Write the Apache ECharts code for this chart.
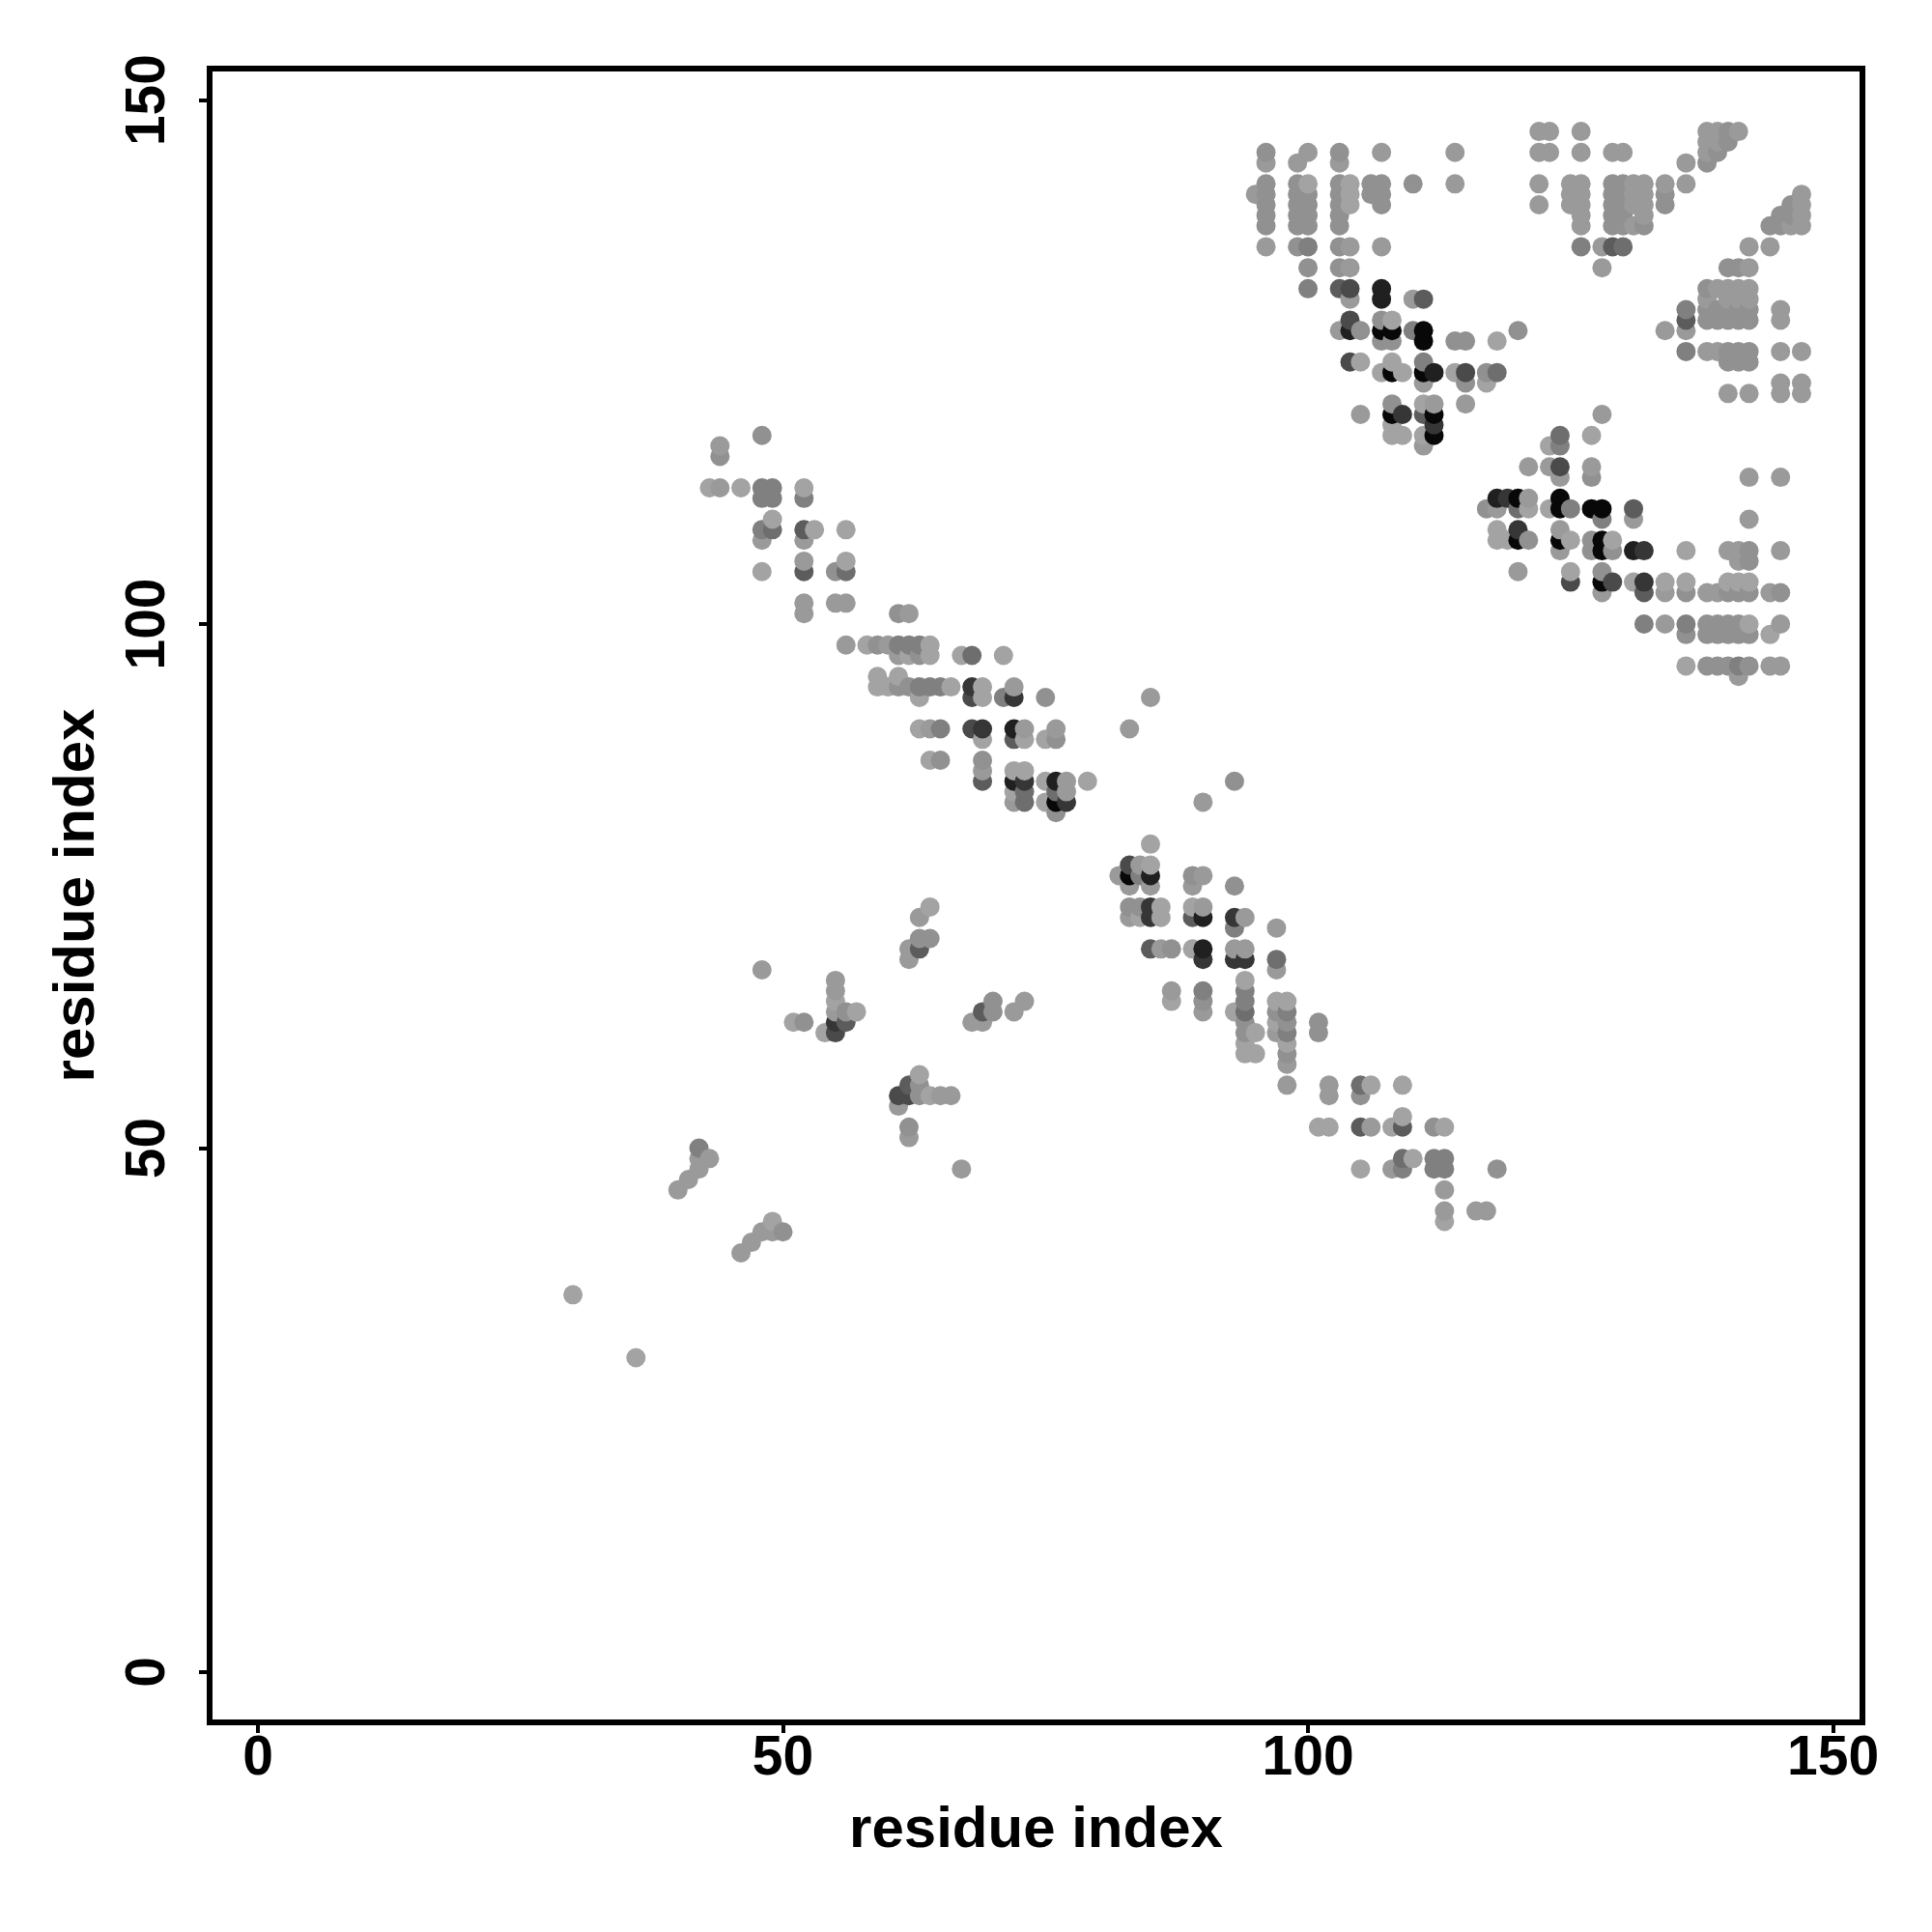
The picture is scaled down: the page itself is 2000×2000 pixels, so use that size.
<!DOCTYPE html>
<html>
<head>
<meta charset="utf-8">
<script src="https://cdn.jsdelivr.net/npm/echarts@6/dist/echarts.min.js"></script>
<style>html,body{margin:0;padding:0;background:#fff}#c{width:2000px;height:2000px}</style>
</head>
<body>
<div id="c"></div>
<script>
const tickValues = [0, 50, 100, 150];
const axisTitle = 'residue index';
// [residue i, residue j, contact strength 1..10]
const isolated = [[30,36,1],[36,30,1],[48,67,2],[67,48,2],[83,90,2],[85,93,2],[93,85,3],[90,83,2]];
const strandA = [[42,50,4],[42,49,2],[43,49,2],[42,48,2],[41,47,2],[40,46,2],[49,43,1],[48,42,2],[49,42,2],[50,42,3],[47,41,2],[46,40,2]];
const strandB = [[55,66,2],[55,65,2],[55,64,1],[55,63,2],[56,63,3],[57,63,1],[51,62,1],[52,62,3],[55,62,8],[56,62,6],[54,61,1],[55,61,7]];
const strandC = [[64,73,1],[63,72,2],[63,70,3],[64,70,3],[62,69,2],[63,69,6],[62,68,2]];
const strandD = [[70,64,3],[73,64,2],[72,63,2],[70,63,3],[69,63,6],[68,62,2],[69,62,2]];
const strandE = [[63,57,1],[62,56,6],[63,56,3],[61,55,7],[62,55,7],[63,55,3],[64,55,1],[65,55,2],[66,55,2],[61,54,2],[62,52,3],[62,51,2]];
const bandTop = [[48,118,3],[44,117,2],[44,116,3],[43,113,1],[44,113,2],[46,113,1],[48,113,4],[49,113,4],[48,112,4],[49,112,4],[52,113,1],[52,112,4],
 [49,110,1],[48,109,4],[49,109,5],[52,109,6],[53,109,1],[56,109,1],[48,108,2],[52,108,2],[52,106,2],[52,105,6],[55,105,3],[56,106,1],[56,105,5],[48,105,1],
 [52,102,2],[52,101,2],[55,102,2],[56,102,2],[61,101,3],[62,101,2]];
const bandMid = [[56,98,2],[58,98,1],[59,98,3],[60,98,2],[61,98,4],[62,98,4],[63,98,4],[64,98,1],[61,97,2],[62,97,1],[63,97,3],[64,97,1],[67,97,1],[68,97,5],[71,97,1],
 [59,95,1],[61,95,1],[59,94,1],[60,94,1],[61,94,3],[62,94,3],[63,94,4],[64,94,4],[65,94,4],[66,94,1],[68,94,8],[69,94,1],[72,94,2],
 [63,93,1],[68,93,7],[69,93,1],[71,93,4],[72,93,8],[75,93,3]];
const bandLow = [[63,90,1],[64,90,2],[65,90,4],[68,90,7],[69,90,8],[72,90,9],[73,90,2],[76,90,2],[69,89,1],[72,89,6],[73,89,1],[75,89,1],[76,89,3],
 [64,87,1],[65,87,3],[69,87,3],[69,86,2],[69,85,6],[72,86,1],[73,86,1],[72,85,9],[73,85,8],[72,84,1],[73,84,5],[72,83,2],[73,83,5],
 [75,85,1],[76,85,9],[77,85,2],[79,85,1],[76,84,5],[77,84,2],[75,83,1],[76,83,10],[77,83,8],[76,82,3]];
const crossUpper = [[85,79,1],[83,77,7],[84,77,2],[85,77,1],[82,76,2],[83,76,10],[84,76,4],[85,76,9],[89,76,3],[90,76,2],[83,75,2],[85,75,2],[89,75,2],[93,75,3],
 [83,73,3],[84,73,3],[85,73,8],[86,73,1],[89,73,1],[90,73,2],[83,72,2],[84,72,1],[85,72,8],[86,72,1],[89,72,6],[90,72,9],[93,72,8],[94,72,2],[93,71,4],[97,71,2],
 [85,69,6],[86,69,2],[87,69,3],[89,69,1],[90,69,9],[93,69,2],[94,69,2],[90,68,8],[93,68,8],[94,68,8],[97,68,5],[97,67,2]];
const crossMid = [[94,66,1],[87,65,2],[90,65,4],[94,65,4],[87,64,1],[90,64,3],[94,64,4],[97,64,1],[98,64,1],[90,63,2],[93,63,1],[94,63,5],[97,63,3],[98,63,4],
 [94,62,3],[97,62,1],[98,62,3],[101,62,3],[94,61,3],[95,61,1],[97,61,2],[98,61,4],[101,61,3],[94,60,1],[98,60,1],[94,59,1],[95,59,1],[98,59,3],[98,58,2]];
const crossLow = [[98,56,2],[102,56,2],[102,55,2],[105,56,5],[106,56,1],[105,55,3],[109,56,1],[109,53,1],[101,52,1],[102,52,1],[105,52,6],[106,52,2],[108,52,1],[109,52,6],[112,52,3],[113,52,1],
 [109,49,5],[110,49,1],[112,49,4],[113,49,4],[105,48,1],[108,48,2],[109,48,4],[112,48,4],[113,48,4],[118,48,3],[113,46,2],[113,44,2],[113,43,1],[116,44,2],[117,44,2]];
const sheetFirst = [[128,120,2],[124,118,5],[127,118,1],[123,117,1],[124,117,4],[121,115,2],[123,115,2],[124,115,7],[127,115,2],[124,114,2],[127,114,3],
 [118,112,9],[119,112,8],[120,112,10],[121,112,2],[124,112,10],[117,111,3],[118,111,2],[120,111,5],[121,111,1],[123,111,1],[124,111,10],[125,111,4],[127,111,10],[128,111,10],[131,111,6],
 [128,110,4],[131,110,2],[118,109,1],[120,109,8],[124,109,2],[118,108,1],[119,108,1],[120,108,10],[121,108,3],[124,108,10],[125,108,1],[127,108,3],[128,108,10],[129,108,1],
 [124,107,2],[127,107,3],[128,107,10],[129,107,3],[131,107,9],[132,107,8],[136,107,1],[120,105,2],[125,105,1],[128,105,3],[125,104,7],[128,104,10],[129,104,7],[128,103,2]];
const sheetSecond = [[142,114,2],[145,114,2],[142,110,2],[140,107,2],[141,107,2],[142,107,3],[145,107,2],[141,106,2],[142,106,3],
 [131,104,1],[132,104,8],[134,104,1],[136,104,1],[140,104,1],[141,104,1],[142,104,1],[132,103,6],[134,103,2],[136,103,3],[138,103,2],[139,103,2],[140,103,3],[141,103,3],[142,103,3],[144,103,2],[145,103,3],
 [132,100,4],[134,100,2],[136,100,4],[138,100,3],[139,100,3],[140,100,3],[141,100,3],[142,100,1],[145,100,2],[136,99,3],[138,99,3],[139,99,3],[140,99,3],[141,99,3],[142,99,3],[144,99,1],
 [136,96,1],[138,96,3],[139,96,3],[140,96,3],[141,96,4],[142,96,3],[144,96,2],[145,96,2],[141,95,2]];
const blockLeft = [[96,145,3],[96,144,2],[100,145,2],[99,144,2],[103,145,3],[103,144,2],[107,145,2],[114,145,2],
 [96,142,3],[99,142,3],[100,142,1],[103,142,3],[104,142,1],[106,142,3],[107,142,3],[110,142,3],[114,142,2],
 [95,141,2],[96,141,3],[99,141,3],[100,141,3],[103,141,3],[104,141,1],[106,141,3],[107,141,3],
 [96,140,3],[99,140,3],[100,140,3],[103,140,3],[104,140,1],[107,140,3],
 [96,139,3],[99,139,3],[100,139,3],[103,139,3],[96,138,3],[99,138,3],[100,138,3],[103,138,3],
 [96,136,2],[99,136,3],[100,136,4],[103,136,3],[104,136,2],[107,136,2],[100,134,3],[103,134,3],[104,134,2],[100,132,4],[103,132,6],[104,132,7],[107,132,9],[104,131,2],[107,131,9],[110,131,2],[111,131,6]];
const blockDiag = [[104,129,7],[107,129,3],[108,129,1],[103,128,2],[104,128,9],[105,128,3],[107,128,10],[108,128,10],[110,128,4],[111,128,10],[120,128,3],
 [107,127,3],[108,127,3],[111,127,10],[114,127,3],[115,127,3],[118,127,1],[104,125,7],[105,125,1],[108,125,1],[111,125,4],
 [107,124,1],[108,124,10],[109,124,1],[111,124,10],[112,124,9],[114,124,1],[115,124,7],[117,124,3],[118,124,5],[111,123,2],[115,123,3],[117,123,1],
 [108,121,3],[111,121,1],[112,121,2],[115,121,2],[105,120,2],[108,120,10],[109,120,8],[111,120,6],[112,120,10],[108,119,1],[112,119,8],[108,118,1],[109,118,1],[111,118,1],[112,118,10],[111,117,2]];
const blockTop = [[122,147,2],[123,147,2],[126,147,2],[138,147,2],[139,147,2],[140,147,3],[141,147,2],[138,146,2],[139,146,2],[140,146,3],
 [122,145,2],[123,145,2],[126,145,2],[129,145,2],[130,145,2],[138,145,2],[139,145,3],[136,144,2],[138,144,3],
 [122,142,2],[125,142,2],[126,142,2],[129,142,3],[130,142,3],[131,142,2],[132,142,2],[134,142,2],[136,142,2],
 [125,141,2],[126,141,2],[129,141,3],[130,141,3],[131,141,2],[132,141,2],[134,141,3],[147,141,2],
 [122,140,2],[125,140,2],[126,140,2],[129,140,3],[130,140,3],[131,140,2],[132,140,2],[134,140,3],[146,140,3],[147,140,2],
 [126,139,2],[129,139,3],[130,139,3],[132,139,2],[145,139,3],[146,139,3],[147,139,2],
 [126,138,2],[129,138,3],[130,138,3],[131,138,2],[132,138,3],[144,138,3],[145,138,3],[146,138,2],[147,138,2],
 [126,136,4],[128,136,2],[129,136,6],[130,136,5],[142,136,2],[144,136,2],[128,134,2]];
const blockRight = [[140,134,3],[141,134,3],[142,134,2],
 [138,132,3],[139,132,2],[140,132,2],[141,132,2],[142,132,2],[138,131,2],[140,131,2],[141,131,2],[142,131,2],
 [136,130,4],[138,130,3],[139,130,3],[140,130,3],[141,130,3],[142,130,3],[145,130,2],
 [136,129,6],[138,129,3],[139,129,3],[140,129,3],[141,129,3],[142,129,3],[145,129,2],[134,128,2],[136,128,2],
 [136,126,4],[138,126,2],[139,126,2],[140,126,3],[141,126,3],[142,126,3],[145,126,2],[147,126,2],[140,125,3],[141,125,3],[142,125,3],
 [145,123,2],[147,123,2],[140,122,2],[142,122,2],[145,122,2],[147,122,2]];

const contacts = [].concat(isolated, strandA, strandB, strandC, strandD, strandE, bandTop, bandMid, bandLow,
  crossUpper, crossMid, crossLow, sheetFirst, sheetSecond, blockLeft, blockDiag, blockTop, blockRight)
  .sort((a, b) => a[0] - b[0] || a[1] - b[1]);

const greyByStrength = [0, 163, 154, 145, 128, 110, 92, 74, 54, 32, 8];
const chart = echarts.init(document.getElementById('c'), null, {renderer: 'canvas'});
const font = '"Liberation Sans", Arial, Helvetica, sans-serif';
chart.setOption({
  animation: false,
  backgroundColor: '#ffffff',
  grid: {left: 217, top: 71, width: 1711, height: 1712, show: true, borderColor: '#000', borderWidth: 6, backgroundColor: 'transparent'},
  xAxis: {
    type: 'value', min: -4.6, max: 152.8, splitLine: {show: false},
    axisLine: {show: false, onZero: false},
    axisTick: {show: true, customValues: tickValues, length: 11, lineStyle: {color: '#000', width: 4}},
    axisLabel: {customValues: tickValues, color: '#000', fontFamily: font, fontWeight: 'bold', fontSize: 57, margin: 10, showMinLabel: true, showMaxLabel: true},
    name: axisTitle, nameLocation: 'middle', nameGap: 82,
    nameTextStyle: {color: '#000', fontFamily: font, fontWeight: 'bold', fontSize: 60}
  },
  yAxis: {
    type: 'value', min: -4.8, max: 153, splitLine: {show: false},
    axisLine: {show: false, onZero: false},
    axisTick: {show: true, customValues: tickValues, length: 11, lineStyle: {color: '#000', width: 4}},
    axisLabel: {customValues: tickValues, rotate: 90, align: 'center', verticalAlign: 'bottom', color: '#000', fontFamily: font, fontWeight: 'bold', fontSize: 57, margin: 34, showMinLabel: true, showMaxLabel: true},
    name: axisTitle, nameLocation: 'middle', nameGap: 107, nameRotate: 90,
    nameTextStyle: {color: '#000', fontFamily: font, fontWeight: 'bold', fontSize: 60}
  },
  series: [{
    type: 'scatter',
    data: contacts,
    symbol: 'circle',
    symbolSize: 20,
    large: false,
    clip: false,
    itemStyle: {
      opacity: 1,
      color: p => { const g = greyByStrength[p.data[2]]; return `rgb(${g},${g},${g})`; }
    }
  }]
});
</script>
</body>
</html>
